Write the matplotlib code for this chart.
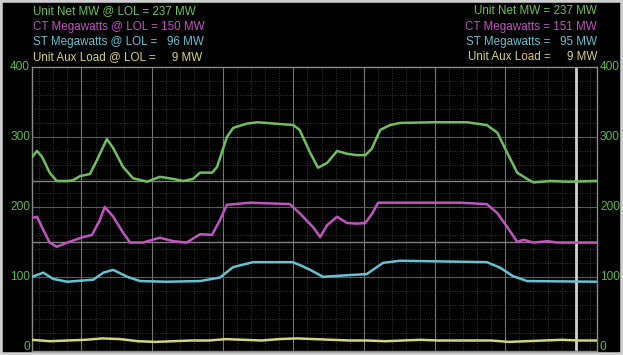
import numpy as np
import matplotlib.pyplot as plt
from matplotlib.patches import Rectangle

# trend traces, time in minutes
t_net = [0, 0.7, 1.4, 2.5, 3.5, 5.0, 5.8, 6.8, 8.2, 9.2, 10.6, 11.5, 12.9, 14.3,
         16.3, 18.1, 20.0, 21.4, 22.8, 23.8, 25.5, 26.2, 27.6, 28.5, 30.4, 31.9,
         37.0, 37.9, 39.4, 40.5, 41.8, 43.2, 44.6, 46.0, 47.2, 48.1, 49.3, 50.7,
         52.1, 56.8, 61.6, 64.4, 65.9, 67.3, 68.7, 70.1, 71.0, 73.4, 75.8, 80.0]
unit_net = [271, 280, 272, 249, 237, 237, 238, 244, 247, 267, 297, 284, 257, 241,
            236, 243, 240, 237, 240, 249, 249, 257, 300, 313, 319, 321,
            317, 310, 277, 256, 263, 280, 276, 274, 274, 283, 310, 317,
            320, 321, 321, 317, 306, 277, 249, 240, 235, 237, 236, 237]

t_ct = [0, 0.7, 1.6, 2.5, 3.5, 5.0, 6.4, 7.3, 8.5, 9.6, 10.3, 11.5, 12.9, 13.9,
        15.7, 18.1, 20.0, 21.9, 23.8, 25.5, 26.6, 27.6, 30.9, 36.5, 37.9, 39.8,
        40.8, 41.8, 43.2, 44.6, 46.0, 47.2, 48.2, 49.0, 52.1, 60.6, 64.4, 65.9,
        67.3, 68.7, 69.6, 71.0, 73.0, 74.4, 80.0]
ct_mw = [184, 186, 167, 149, 143, 149, 154, 157, 160, 181, 200, 186, 163, 149,
         149, 156, 151, 149, 161, 160, 181, 203, 206, 204, 191, 171,
         157, 174, 186, 177, 176, 177, 191, 206, 206, 206, 204, 191,
         171, 150, 153, 149, 151, 149, 149]

t_st = [0, 1.6, 3.0, 5.0, 8.7, 10.1, 11.5, 13.5, 15.3, 19.1, 23.8, 26.6, 28.5,
        31.3, 36.9, 37.9, 39.4, 41.2, 42.6, 47.4, 49.7, 52.1, 64.4, 66.3, 68.1,
        70.1, 80.0]
st_mw = [100, 106, 97, 93, 96, 106, 110, 100, 94, 93, 94, 99, 114,
         121, 121, 117, 110, 100, 101, 104, 120, 123, 121, 113, 101,
         94, 93]

t_aux = [0, 2.5, 5.0, 7.5, 10.0, 12.5, 15.0, 17.5, 20.0, 22.5, 25.0, 27.5,
         30.0, 32.5, 35.0, 37.5, 40.0, 42.5, 45.0, 47.5, 50.0, 52.5, 55.0,
         57.5, 60.0, 62.5, 65.0, 67.5, 70.0, 72.5, 75.0, 77.5, 80.0]
aux_mw = [10, 8, 9, 10, 12, 11, 8, 7, 8, 9, 9, 11, 10, 9, 11, 12, 11,
          10, 9, 9, 8, 9, 10, 9, 9, 9, 9, 7, 8, 9, 10, 9, 9]

lol = [237, 150, 96, 9]
now = [237, 151, 95, 9]
names = ['Unit Net MW', 'CT Megawatts', 'ST Megawatts', 'Unit Aux Load']
colors = ['#6fc05c', '#c254c2', '#66c2d2', '#d8d27a']
yticks = [0, 100, 200, 300, 400]
cursor_t = 77


def mw(v):
    # right-justify the number: two spaces are about one digit wide
    s = str(v)
    return '  ' * (3 - len(s)) + s + ' MW'


fig = plt.figure(figsize=(6.23, 3.55), dpi=100, facecolor='black')
ax = fig.add_axes([32 / 623, 4 / 355, 565 / 623, 284 / 355], facecolor='black')

# grid: dotted minor, solid major, vertical majors every 10 min
for x in np.arange(1, 80, 2):
    ax.axvline(x, color='#4c4c4c', lw=0.6, ls=(0, (1, 2)), zorder=1)
for y in np.arange(20, 400, 20):
    ax.axhline(y, color='#4c4c4c', lw=0.6, ls=(0, (1, 2)), zorder=1)
for x in np.arange(7, 77, 10):
    ax.axvline(x, color='#767676', lw=0.8, zorder=1)
for y in yticks[1:-1]:
    ax.axhline(y, color='#5a5a5a', lw=0.8, zorder=1)
ax.axvline(cursor_t, color='#d0d0d0', lw=2, zorder=2)

# LOL reference lines
for v in lol[:2]:
    ax.axhline(v, color='#808080', lw=1.0, zorder=2)

series = [(t_net, unit_net), (t_ct, ct_mw), (t_st, st_mw), (t_aux, aux_mw)]
for (t, v), c in zip(series, colors):
    ax.plot(t, v, color=c, lw=1.8, zorder=3, solid_joinstyle='round')

ax.set_xlim(0, 80)
ax.set_ylim(-6, 400)
ax.set_xticks([])
ax.set_yticks([])
for s in ax.spines.values():
    s.set_color('#8a8a8a')
    s.set_linewidth(1.0)

for y in yticks:
    yp = ax.transData.transform((0, y))[1]
    fig.text(30 / 623, yp / 355, str(y), color='#5cb84c', fontsize=8.6,
             ha='right', va='center', family='Liberation Sans')
    fig.text(600 / 623, yp / 355, str(y), color='#5cb84c', fontsize=8.6,
             ha='left', va='center', family='Liberation Sans')

line_y = [11, 27, 42, 57]
for i in range(4):
    yy = 1 - line_y[i] / 355
    fig.text(33 / 623, yy, '%s @ LOL = %s' % (names[i], mw(lol[i])),
             color=colors[i], fontsize=8.4, ha='left', va='center',
             family='Liberation Sans')
    fig.text(597 / 623, yy, '%s = %s' % (names[i], mw(now[i])),
             color=colors[i], fontsize=8.4, ha='right', va='center',
             family='Liberation Sans')

fig.patches.append(Rectangle((0, 0), 1, 1, transform=fig.transFigure,
                             fill=False, edgecolor='#cfcfcf', lw=4))

fig.savefig('out.png', dpi=100, facecolor='black')
